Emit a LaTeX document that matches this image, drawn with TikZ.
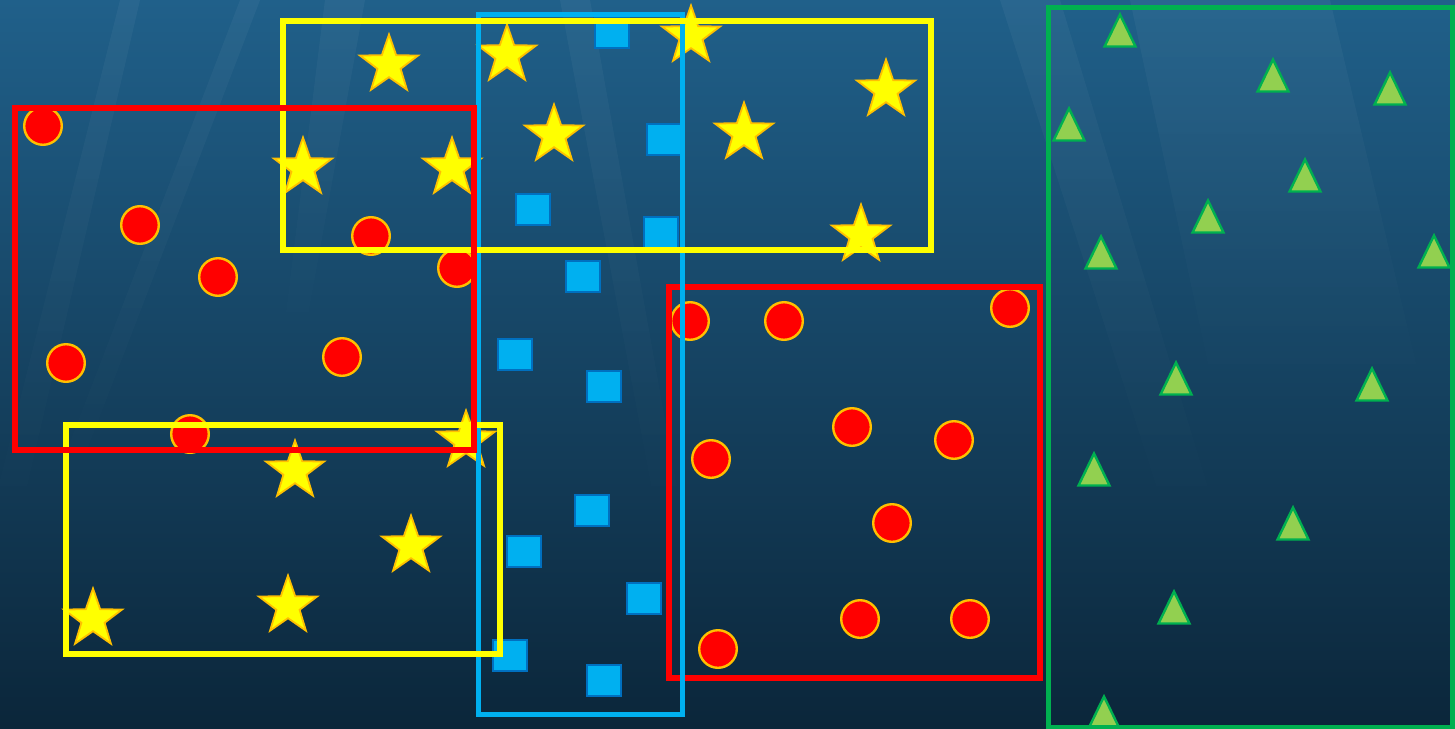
\documentclass[tikz,border=0pt]{standalone}
\usepackage{tikz}
\usetikzlibrary{shapes.geometric,fadings}
\definecolor{bgTop}{HTML}{20608A}
\definecolor{bgMid}{HTML}{174769}
\definecolor{bgBot}{HTML}{0B263A}
\definecolor{dotRed}{HTML}{FF0000}
\definecolor{rimGold}{HTML}{FFC000}
\definecolor{starYel}{HTML}{FFFF00}
\definecolor{sqBlue}{HTML}{00B0F0}
\definecolor{sqEdge}{HTML}{0070C0}
\definecolor{triGreen}{HTML}{92D050}
\definecolor{triEdge}{HTML}{00B050}

\begin{document}
\begin{tikzpicture}[x=0.5pt,y=-0.5pt,
        dot/.style={circle,fill=dotRed,draw=rimGold,line width=1.2pt,
                   minimum size=18.8pt,inner sep=0pt},
        spark/.style={star,star points=5,star point ratio=2.5,fill=starYel,
                   draw=rimGold,line width=0.9pt,minimum size=30.5pt,inner sep=0pt},
        chip/.style={rectangle,fill=sqBlue,draw=sqEdge,line width=1pt,
                   minimum width=17pt,minimum height=15.5pt,inner sep=0pt},
        tri/.pic={\draw[fill=triGreen,draw=triEdge,line width=1.2pt]
                   (0,-15.5) -- (15.5,16.5) -- (-15.5,16.5) -- cycle;},
        ray/.style={white,fill opacity=0.045,path fading=south},
        frame/.style={line width=3pt},
        slimframe/.style={line width=2.5pt}]
        % sea background
        \useasboundingbox (0,0) rectangle (1455,728);
        \shade[top color=bgTop,middle color=bgMid,bottom color=bgBot] (0,0) rectangle (1455,728);
        \fill[ray] (325,0) -- (365,0) -- (300,360) -- (280,360) -- cycle;
        \fill[ray] (240,0) -- (260,0) -- (60,520) -- (40,520) -- cycle;
        \fill[ray] (120,0) -- (140,0) -- (10,560) -- (0,560) -- (0,480) -- cycle;
        \fill[ray] (560,0) -- (590,0) -- (690,560) -- (665,560) -- cycle;
        \fill[ray] (1130,0) -- (1330,0) -- (1420,380) -- (1220,420) -- cycle;
        \fill[ray] (1000,0) -- (1060,0) -- (1230,560) -- (1180,560) -- cycle;

        % circles
        \node[dot] (c1) at (43,126) {};
        \node[dot] (c2) at (140,225) {};
        \node[dot] (c3) at (218,277) {};
        \node[dot] (c4) at (371,236) {};
        \node[dot] (c5) at (457,268) {};
        \node[dot] (c6) at (66,363) {};
        \node[dot] (c7) at (342,357) {};
        \node[dot] (c8) at (190,434) {};
        \node[dot] (c9) at (690,321) {};
        \node[dot] (c10) at (784,321) {};
        \node[dot] (c11) at (1010,308) {};
        \node[dot] (c12) at (711,459) {};
        \node[dot] (c13) at (852,427) {};
        \node[dot] (c14) at (954,440) {};
        \node[dot] (c15) at (892,523) {};
        \node[dot] (c16) at (860,619) {};
        \node[dot] (c17) at (970,619) {};
        \node[dot] (c18) at (718,649) {};

        % stars
        \node[spark] (s1) at (389,65) {};
        \node[spark] (s2) at (303,168) {};
        \node[spark] (s3) at (452,168) {};
        \node[spark] (s4) at (507,55) {};
        \node[spark] (s5) at (691,36) {};
        \node[spark] (s6) at (554,135) {};
        \node[spark] (s7) at (744,133) {};
        \node[spark] (s8) at (886,90) {};
        \node[spark] (s9) at (861,235) {};
        \node[spark] (s10) at (466,441) {};
        \node[spark] (s11) at (295,471) {};
        \node[spark] (s12) at (411,546) {};
        \node[spark] (s13) at (93,619) {};
        \node[spark] (s14) at (288,606) {};

        % squares
        \node[chip] (q1) at (612,32) {};
        \node[chip] (q2) at (664,139) {};
        \node[chip] (q3) at (533,209) {};
        \node[chip] (q4) at (661,232) {};
        \node[chip] (q5) at (583,276) {};
        \node[chip] (q6) at (515,354) {};
        \node[chip] (q7) at (604,386) {};
        \node[chip] (q8) at (592,510) {};
        \node[chip] (q9) at (524,551) {};
        \node[chip] (q10) at (644,598) {};
        \node[chip] (q11) at (510,655) {};
        \node[chip] (q12) at (604,680) {};

        % triangles
        \pic (t1) at (1120,30) {tri};
        \pic (t2) at (1273,75) {tri};
        \pic (t3) at (1390,88) {tri};
        \pic (t4) at (1069,124) {tri};
        \pic (t5) at (1305,175) {tri};
        \pic (t6) at (1208,216) {tri};
        \pic (t7) at (1101,252) {tri};
        \pic (t8) at (1434,251) {tri};
        \pic (t9) at (1176,378) {tri};
        \pic (t10) at (1372,384) {tri};
        \pic (t11) at (1094,469) {tri};
        \pic (t12) at (1293,523) {tri};
        \pic (t13) at (1174,607) {tri};
        \pic (t14) at (1104,712) {tri};

        % group frames
        \draw[frame,dotRed] (669,287) rectangle (1040,678);
        \draw[slimframe,triEdge] (1048,7) rectangle (1452,727);
        \draw[slimframe,sqBlue] (478,14) rectangle (682,714);
        \draw[frame,starYel] (283,21) rectangle (931,250);
        \draw[frame,starYel] (66,425) rectangle (500,654);
        \draw[frame,dotRed] (15,108) rectangle (474,450);
\end{tikzpicture}
\end{document}
